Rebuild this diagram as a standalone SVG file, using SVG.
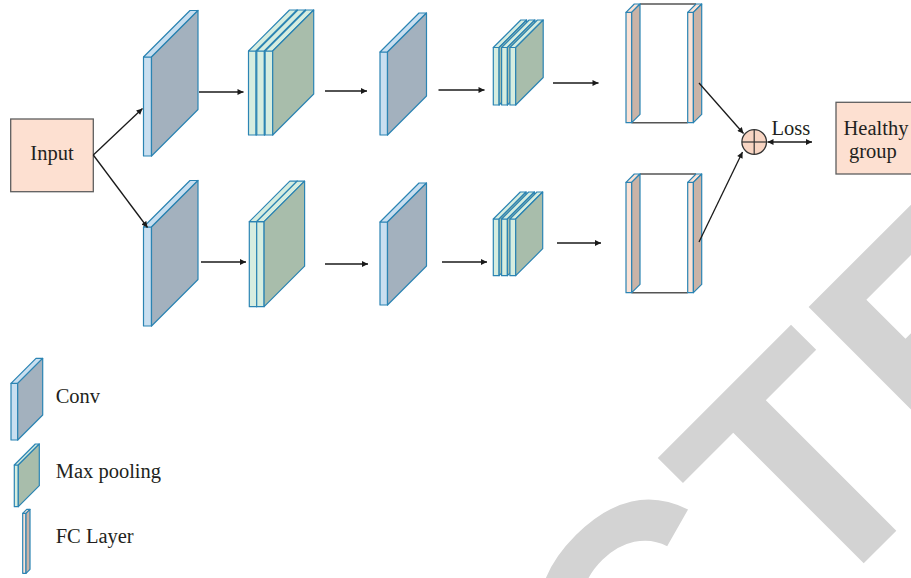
<svg xmlns="http://www.w3.org/2000/svg" width="911" height="578" viewBox="0 0 911 578">
  <style>
    .sl { stroke: #2b84b3; stroke-width: 1.2; stroke-linejoin: round; }
    .cv-f { fill: #c9dff0; }
    .cv-s { fill: #a3b1be; }
    .pl-f { fill: #d6ede0; }
    .pl-s { fill: #a8bdab; }
    .fc-f { fill: #fbe2d5; }
    .fc-s { fill: #c9b3a7; }
    .edge { stroke: #555; stroke-width: 1.5; fill: none; }
    .box { fill: #fde0d1; stroke: #5e5e5e; stroke-width: 1.3; }
    .lbl { font-family: "Liberation Serif", "Times New Roman", serif; font-size: 20.5px; fill: #231f20; }
    .conn line { stroke: #1a1a1a; stroke-width: 1.3; fill: none; }
    .wm { font-family: "Liberation Sans", Arial, sans-serif; font-weight: bold; font-size: 320px; fill: #d3d3d3; }
  </style>
  <defs>
    <marker id="ah" viewBox="0 0 10 10" refX="10" refY="5" markerWidth="7" markerHeight="6" markerUnits="userSpaceOnUse" orient="auto-start-reverse">
      <path d="M0,0 L10,5 L0,10 z" fill="#1a1a1a"/>
    </marker>
  </defs>

  <!-- background watermark -->
  <text class="wm" transform="translate(880,547) rotate(-45)" x="-1431" y="0">RETRACTED</text>

  <!-- input -->
  <g id="input">
    <rect class="box" x="10.7" y="119" width="82.6" height="72.7"/>
    <text class="lbl" x="52" y="160" text-anchor="middle">Input</text>
  </g>

  <!-- upper branch -->
  <g id="conv1-top">
    <rect class="sl cv-f" x="143.5" y="57" width="8" height="99"/>
    <polygon class="sl cv-f" points="143.5,57 190,10.5 198,10.5 151.5,57"/>
    <polygon class="sl cv-s" points="151.5,57 198,10.5 198,109.5 151.5,156"/>
  </g>
  <g id="pool1-top">
    <rect class="sl pl-f" x="248.5" y="51" width="7.6" height="84"/>
    <polygon class="sl pl-f" points="248.5,51 289.5,10 297.1,10 256.1,51"/>
    <polygon class="sl pl-s" points="256.1,51 297.1,10 297.1,94 256.1,135"/>
    <rect class="sl pl-f" x="256.8" y="51" width="7.6" height="84"/>
    <polygon class="sl pl-f" points="256.8,51 297.8,10 305.4,10 264.4,51"/>
    <polygon class="sl pl-s" points="264.4,51 305.4,10 305.4,94 264.4,135"/>
    <rect class="sl pl-f" x="265.1" y="51" width="7.6" height="84"/>
    <polygon class="sl pl-f" points="265.1,51 306.1,10 313.7,10 272.7,51"/>
    <polygon class="sl pl-s" points="272.7,51 313.7,10 313.7,94 272.7,135"/>
  </g>
  <g id="conv2-top">
    <rect class="sl cv-f" x="380" y="52" width="7.5" height="83"/>
    <polygon class="sl cv-f" points="380,52 419,13 426.5,13 387.5,52"/>
    <polygon class="sl cv-s" points="387.5,52 426.5,13 426.5,96 387.5,135"/>
  </g>
  <g id="pool2-top">
    <rect class="sl pl-f" x="493.3" y="47.5" width="5.8" height="57.5"/>
    <polygon class="sl pl-f" points="493.3,47.5 520.8,20 526.6,20 499.1,47.5"/>
    <polygon class="sl pl-s" points="499.1,47.5 526.6,20 526.6,77.5 499.1,105"/>
    <rect class="sl pl-f" x="501.6" y="47.5" width="5.8" height="57.5"/>
    <polygon class="sl pl-f" points="501.6,47.5 529.1,20 534.9,20 507.4,47.5"/>
    <polygon class="sl pl-s" points="507.4,47.5 534.9,20 534.9,77.5 507.4,105"/>
    <rect class="sl pl-f" x="509.9" y="47.5" width="5.8" height="57.5"/>
    <polygon class="sl pl-f" points="509.9,47.5 537.4,20 543.2,20 515.7,47.5"/>
    <polygon class="sl pl-s" points="515.7,47.5 543.2,20 543.2,77.5 515.7,105"/>
  </g>
  <g id="fc-top">
    <line class="edge" x1="640" y1="4" x2="696" y2="4"/>
    <line class="edge" x1="631.7" y1="122.7" x2="687.7" y2="122.7"/>
    <rect class="sl fc-f" x="626" y="12.3" width="5.7" height="110.4"/>
    <polygon class="sl fc-f" points="626,12.3 634.3,4 640,4 631.7,12.3"/>
    <polygon class="sl fc-s" points="631.7,12.3 640,4 640,114.4 631.7,122.7"/>
    <rect class="sl fc-f" x="687.7" y="12.3" width="5.7" height="110.4"/>
    <polygon class="sl fc-f" points="687.7,12.3 696,4 701.7,4 693.4,12.3"/>
    <polygon class="sl fc-s" points="693.4,12.3 701.7,4 701.7,114.4 693.4,122.7"/>
  </g>

  <!-- lower branch -->
  <g id="conv1-bottom">
    <rect class="sl cv-f" x="143.5" y="227" width="8" height="99"/>
    <polygon class="sl cv-f" points="143.5,227 190,180.5 198,180.5 151.5,227"/>
    <polygon class="sl cv-s" points="151.5,227 198,180.5 198,279.5 151.5,326"/>
  </g>
  <g id="pool1-bottom">
    <rect class="sl pl-f" x="249.3" y="221.7" width="7.4" height="85"/>
    <polygon class="sl pl-f" points="249.3,221.7 289.8,181.2 297.2,181.2 256.7,221.7"/>
    <polygon class="sl pl-s" points="256.7,221.7 297.2,181.2 297.2,266.2 256.7,306.7"/>
    <rect class="sl pl-f" x="256.7" y="221.7" width="7.4" height="85"/>
    <polygon class="sl pl-f" points="256.7,221.7 297.2,181.2 304.6,181.2 264.1,221.7"/>
    <polygon class="sl pl-s" points="264.1,221.7 304.6,181.2 304.6,266.2 264.1,306.7"/>
  </g>
  <g id="conv2-bottom">
    <rect class="sl cv-f" x="380" y="222" width="7.5" height="83"/>
    <polygon class="sl cv-f" points="380,222 419,183 426.5,183 387.5,222"/>
    <polygon class="sl cv-s" points="387.5,222 426.5,183 426.5,266 387.5,305"/>
  </g>
  <g id="pool2-bottom">
    <rect class="sl pl-f" x="493.3" y="219" width="5.8" height="56.7"/>
    <polygon class="sl pl-f" points="493.3,219 520.3,192 526.1,192 499.1,219"/>
    <polygon class="sl pl-s" points="499.1,219 526.1,192 526.1,248.7 499.1,275.7"/>
    <rect class="sl pl-f" x="501.6" y="219" width="5.8" height="56.7"/>
    <polygon class="sl pl-f" points="501.6,219 528.6,192 534.4,192 507.4,219"/>
    <polygon class="sl pl-s" points="507.4,219 534.4,192 534.4,248.7 507.4,275.7"/>
    <rect class="sl pl-f" x="509.9" y="219" width="5.8" height="56.7"/>
    <polygon class="sl pl-f" points="509.9,219 536.9,192 542.7,192 515.7,219"/>
    <polygon class="sl pl-s" points="515.7,219 542.7,192 542.7,248.7 515.7,275.7"/>
  </g>
  <g id="fc-bottom">
    <line class="edge" x1="640" y1="174" x2="696" y2="174"/>
    <line class="edge" x1="631.7" y1="292.7" x2="687.7" y2="292.7"/>
    <rect class="sl fc-f" x="626" y="182.3" width="5.7" height="110.4"/>
    <polygon class="sl fc-f" points="626,182.3 634.3,174 640,174 631.7,182.3"/>
    <polygon class="sl fc-s" points="631.7,182.3 640,174 640,284.4 631.7,292.7"/>
    <rect class="sl fc-f" x="687.7" y="182.3" width="5.7" height="110.4"/>
    <polygon class="sl fc-f" points="687.7,182.3 696,174 701.7,174 693.4,182.3"/>
    <polygon class="sl fc-s" points="693.4,182.3 701.7,174 701.7,284.4 693.4,292.7"/>
  </g>

  <!-- merge and loss -->
  <g id="sum">
    <circle cx="754.2" cy="142" r="12.3" fill="#f8d5c3" stroke="#333" stroke-width="1.3"/>
    <line x1="741.9" y1="142" x2="766.5" y2="142" stroke="#333" stroke-width="1.2"/>
    <line x1="754.2" y1="129.7" x2="754.2" y2="154.3" stroke="#333" stroke-width="1.2"/>
  </g>
  <g id="healthy">
    <rect class="box" x="836" y="102.3" width="80" height="71.7"/>
    <text class="lbl" x="843.5" y="135">Healthy</text>
    <text class="lbl" x="849" y="158">group</text>
  </g>
  <text class="lbl" x="771.5" y="135" font-size="19.5">Loss</text>

  <g class="conn" id="connectors">
    <line x1="93.3" y1="155" x2="142.5" y2="108.5" marker-end="url(#ah)"/>
    <line x1="93.3" y1="155" x2="147.5" y2="227.5" marker-end="url(#ah)"/>
    <line x1="199" y1="92" x2="243.5" y2="92" marker-end="url(#ah)"/>
    <line x1="325" y1="91" x2="367" y2="91" marker-end="url(#ah)"/>
    <line x1="438.5" y1="90" x2="484.5" y2="90" marker-end="url(#ah)"/>
    <line x1="553" y1="83" x2="598.5" y2="83" marker-end="url(#ah)"/>
    <line x1="201" y1="262" x2="246" y2="262" marker-end="url(#ah)"/>
    <line x1="325" y1="264" x2="368" y2="264" marker-end="url(#ah)"/>
    <line x1="442" y1="262" x2="487" y2="262" marker-end="url(#ah)"/>
    <line x1="557" y1="243" x2="601" y2="243" marker-end="url(#ah)"/>
    <line x1="699" y1="83" x2="743.5" y2="133.5" marker-end="url(#ah)"/>
    <line x1="699" y1="242" x2="742.5" y2="152" marker-end="url(#ah)"/>
    <line x1="767.5" y1="142" x2="812" y2="142" marker-start="url(#ah)" marker-end="url(#ah)"/>
  </g>

  <!-- legend -->
  <g id="legend-conv">
    <rect class="sl cv-f" x="11" y="383.3" width="6.7" height="56.7"/>
    <polygon class="sl cv-f" points="11,383.3 36,358.3 42.7,358.3 17.7,383.3"/>
    <polygon class="sl cv-s" points="17.7,383.3 42.7,358.3 42.7,415 17.7,440"/>
    <text class="lbl" x="55.7" y="403.3">Conv</text>
  </g>
  <g id="legend-pool">
    <rect class="sl pl-f" x="14.3" y="465" width="4" height="41.7"/>
    <polygon class="sl pl-f" points="14.3,465 35.3,444 39.3,444 18.3,465"/>
    <polygon class="sl pl-s" points="18.3,465 39.3,444 39.3,485.7 18.3,506.7"/>
    <text class="lbl" x="55.7" y="478.3">Max pooling</text>
  </g>
  <g id="legend-fc">
    <rect class="sl fc-f" x="22.7" y="513.3" width="3.3" height="60"/>
    <polygon class="sl fc-f" points="22.7,513.3 26.7,509.3 30,509.3 26,513.3"/>
    <polygon class="sl fc-s" points="26,513.3 30,509.3 30,569.3 26,573.3"/>
    <text class="lbl" x="55.7" y="543.3">FC Layer</text>
  </g>
</svg>
